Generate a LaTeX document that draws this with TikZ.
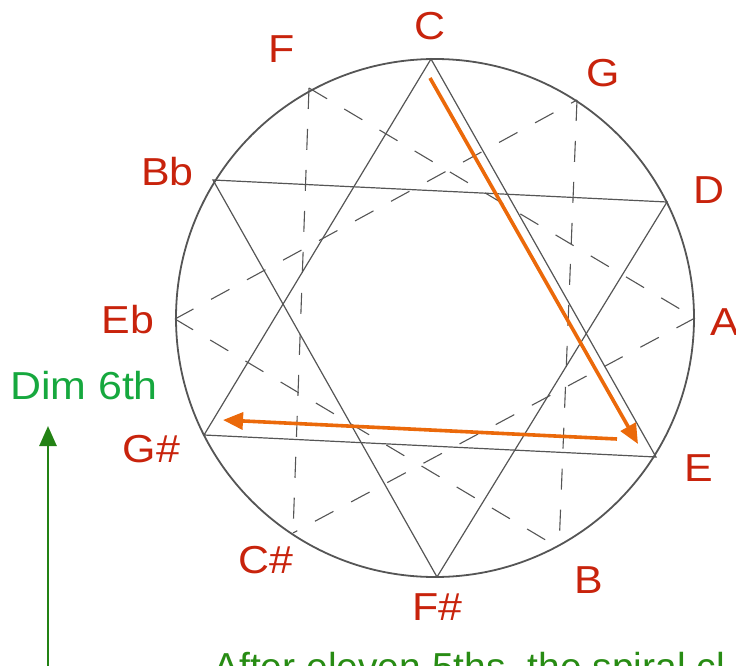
\documentclass[tikz,border=0pt]{standalone}
\usepackage{fontspec}
\setmainfont{Liberation Sans}
\newfontfamily\labfont[FakeStretch=1.1]{Liberation Sans}
\usetikzlibrary{arrows.meta}
\definecolor{notered}{RGB}{200,35,12}
\definecolor{dimgreen}{RGB}{22,168,62}
\definecolor{arrgreen}{RGB}{35,130,20}
\definecolor{txtgreen}{RGB}{40,140,20}
\definecolor{orng}{RGB}{235,105,10}
\definecolor{pencil}{RGB}{85,85,85}
\tikzset{
  note/.style={inner sep=0pt, anchor=base, text=notered, font=\labfont\fontsize{39pt}{39pt}\selectfont},
  solidline/.style={draw=pencil, line width=1.2pt},
  dashline/.style={draw=pencil, line width=1.1pt, dash pattern=on 21pt off 20pt},
  ring/.style={draw=pencil, line width=1.8pt},
  orangearrow/.style={draw=orng, line width=3.6pt, -{Triangle[length=20pt,width=17pt]}},
  greenarrow/.style={draw=arrgreen, line width=2.6pt, -{Triangle[length=20pt,width=17pt]}},
}
\begin{document}
\begin{tikzpicture}[x=1pt,y=-1pt]
\useasboundingbox (0,0) rectangle (736,666);
\clip (0,0) rectangle (736,666);
% circle
\node[ring, circle, minimum size=518pt, inner sep=0pt] (ring) at (435,318) {};
% vertices
\coordinate (C) at (431,59);
\coordinate (G) at (577,100);
\coordinate (D) at (667,202);
\coordinate (A) at (695,318);
\coordinate (E) at (656,457);
\coordinate (B) at (559,548);
\coordinate (Fs) at (437,577);
\coordinate (Cs) at (293,533);
\coordinate (Gs) at (204,435);
\coordinate (Eb) at (175,319);
\coordinate (Bb) at (213,180);
\coordinate (F) at (309,88);
% solid triangles
\draw[solidline] (C) -- (E) -- (Gs) -- cycle;
\draw[solidline] (Bb) -- (D) -- (Fs) -- cycle;
% dashed triangles
\draw[dashline] (F) -- (A);
\draw[dashline] (A) -- (Cs);
\draw[dashline] (F) -- (Cs);
\draw[dashline] (G) -- (B);
\draw[dashline] (Eb) -- (B);
\draw[dashline] (Eb) -- (G);
% labels
\node[note] (lC) at (429.5,40) {C};
\node[note] (lF) at (281.5,63) {F};
\node[note] (lG) at (603,87) {G};
\node[note] (lBb) at (167.5,185) {Bb};
\node[note] (lD) at (708.5,203) {D};
\node[note] (lEb) at (128,333) {Eb};
\node[note] (lA) at (725,335) {A};
\node[note] (lGs) at (151.5,462) {G\#};
\node[note] (lE) at (698.5,481) {E};
\node[note] (lCs) at (265.5,573) {C\#};
\node[note] (lB) at (588.5,593) {B};
\node[note] (lFs) at (437.5,620) {F\#};
% orange arrows
\coordinate (o1s) at (430,78);
\coordinate (o1e) at (638,444);
\coordinate (o2s) at (617,439);
\coordinate (o2e) at (223,420);
\draw[orangearrow] (o1s) -- (o1e);
\draw[orangearrow] (o2s) -- (o2e);
% green
\node[inner sep=0pt, anchor=base, text=dimgreen, font=\labfont\fontsize{39pt}{39pt}\selectfont] (dim) at (84,399) {Dim 6th};
\coordinate (gbot) at (48,680);
\coordinate (gtop) at (48,426);
\draw[greenarrow] (gbot) -- (gtop);
\node[inner sep=0pt, anchor=base west, text=txtgreen, font=\fontsize{39pt}{39pt}\selectfont] (after) at (213,680) {After eleven 5ths, the spiral cl};
\end{tikzpicture}
\end{document}
